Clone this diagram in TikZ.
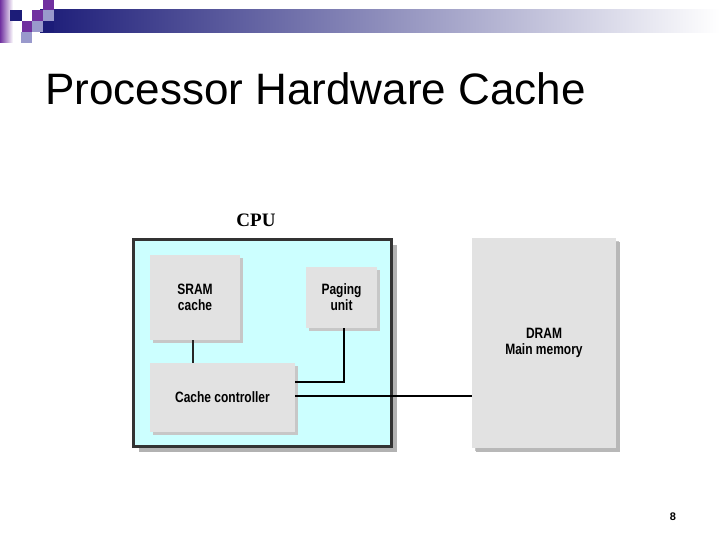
\documentclass[tikz,border=0pt]{standalone}
\usepackage{fontspec}
\setmainfont{Liberation Sans}
\newfontfamily\lblfont[FakeStretch=0.8]{Liberation Sans}
\newfontfamily\cpufont{Liberation Serif}
\usetikzlibrary{positioning,shadows}
\usepackage{xcolor}
\definecolor{navyc}{RGB}{28,28,120}
\definecolor{plumc}{RGB}{112,48,160}
\definecolor{lavc}{RGB}{153,153,204}
\definecolor{cpuc}{RGB}{204,255,255}
\definecolor{boxc}{RGB}{226,226,226}
\tikzset{
  unit/.style={rectangle,fill=boxc,inner sep=0pt,align=center,
    font=\lblfont\bfseries\fontsize{15}{16}\selectfont,
    drop shadow={shadow xshift=2.5pt,shadow yshift=-2.5pt,fill=black!22,opacity=1}},
  wire/.style={line width=2pt,black},
  thinwire/.style={line width=1.4pt,black!85},
}

\begin{document}
\begin{tikzpicture}[x=1pt,y=-1pt,
  cpubox/.style={rectangle,fill=cpuc,draw=black!80,line width=3pt,inner sep=0pt,
    drop shadow={shadow xshift=5pt,shadow yshift=-5pt,fill=black!30,opacity=1}},
  mem/.style={unit,drop shadow={shadow xshift=4pt,shadow yshift=-4pt,fill=black!28,opacity=1}}]
  \useasboundingbox (0,0) rectangle (720,540);
  % ---- slide decoration ----
  \shade[left color=plumc,right color=white] (0,0) rectangle (13,43);
  \shade[left color=navyc,right color=white] (40,10) rectangle (720,33);
  \fill[navyc] (10,10) rectangle (22,21);
  \fill[plumc] (22,21) rectangle (32,32);
  \fill[lavc] (21,32) rectangle (32,43);
  \fill[plumc] (32,10) rectangle (43,21);
  \fill[lavc] (32,21) rectangle (43,32);
  \fill[plumc] (43,0) rectangle (54,10);
  \fill[lavc] (43,10) rectangle (54,21);
  \fill[navyc] (43,21) rectangle (54,32);
  \node[anchor=base west,inner sep=0pt,font=\fontsize{44}{48}\selectfont] (title) at (45,105)
    {Processor Hardware Cache};
  % ---- CPU ----
  \node[cpubox,minimum width=258pt,minimum height=207pt] (cpu) at (262.5,343) {};
  \node[font=\cpufont\bfseries\fontsize{19}{20}\selectfont,inner sep=0pt] (cpulbl) at (256,220) {CPU};
  \node[unit,minimum width=90pt,minimum height=85pt] (sram) at (195,297.5) {SRAM\\cache};
  \node[unit,minimum width=71pt,minimum height=61pt] (paging) at (341.5,297.5) {Paging\\unit};
  \node[unit,minimum width=145pt,minimum height=69pt] (ctrl) at (222.5,397.5) {Cache controller};
  % ---- main memory ----
  \node[mem,minimum width=144pt,minimum height=210pt] (dram) at (544,343) {DRAM\\Main memory};
  % ---- wires ----
  \draw[thinwire] (sram.south -| 193,0) -- (ctrl.north -| 193,0);
  \draw[wire] ([yshift=15.5pt]ctrl.east) -| ([xshift=2.5pt]paging.south);
  \draw[wire] ([yshift=1.5pt]ctrl.east) -- ([yshift=1.5pt]dram.west |- ctrl.east);
  \node[font=\bfseries\fontsize{11}{12}\selectfont,inner sep=0pt] (pgno) at (673,516.5) {8};
\end{tikzpicture}
\end{document}
